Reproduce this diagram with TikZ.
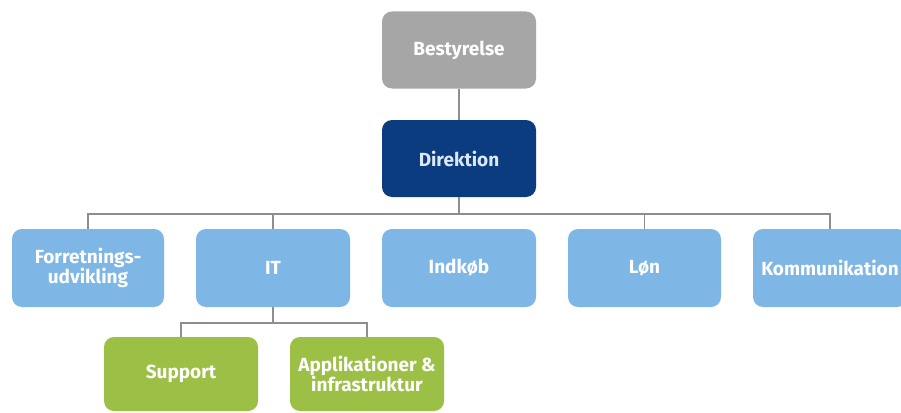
\documentclass[tikz,border=0pt]{standalone}
\usepackage{fontspec}
\setmainfont{Fira Sans}
\definecolor{boxgray}{HTML}{A6A6A6}
\definecolor{boxnavy}{HTML}{0B3C80}
\definecolor{boxblue}{HTML}{7EB6E5}
\definecolor{boxgreen}{HTML}{9CBF45}
\definecolor{linegray}{HTML}{8E8E8E}
\definecolor{navytext}{HTML}{DCE8F6}
\begin{document}
\begin{tikzpicture}[x=1pt,y=-1pt,
  orgbox/.style={rectangle, rounded corners=10pt, minimum height=77pt, minimum width=154pt,
    inner sep=2pt, align=center, font=\fontsize{19}{19}\selectfont\bfseries, text=white},
  graybox/.style={orgbox, fill=boxgray},
  navybox/.style={orgbox, fill=boxnavy, text=navytext},
  bluebox/.style={orgbox, fill=boxblue},
  greenbox/.style={orgbox, fill=boxgreen, minimum height=74pt},
  conn/.style={draw=linegray, line width=1.5pt}]
\useasboundingbox (0,0) rectangle (901,412);
\fill[white] (0,0) rectangle (901,412);
\node[graybox] (best) at (459,50) {Bestyrelse};
\node[navybox] (dir) at (459,158.5) {Direktion};
\node[bluebox, minimum width=152pt, minimum height=78pt] (forr) at (88,268) {Forretnings-\\udvikling};
\node[bluebox, minimum height=78pt] (it) at (273,268) {IT};
\node[bluebox, minimum height=78pt] (ind) at (459,268) {Indkøb};
\node[bluebox, minimum width=153pt, minimum height=78pt] (lon) at (644.5,268) {Løn};
\node[bluebox, minimum width=154pt, minimum height=78pt] (kom) at (830,268) {Kommunikation};
\node[greenbox] (sup) at (181,374) {Support};
\node[greenbox] (app) at (367,374) {Applikationer \&\\infrastruktur};
\coordinate (bus) at (0,214);
\coordinate (bus2) at (0,323);
\draw[conn] (best.south) -- (dir.north);
\draw[conn] (dir.south) -- (dir.south |- bus);
\draw[conn] (forr.north) -- (forr.north |- bus) -- (kom.north |- bus) -- (kom.north);
\draw[conn] (it.north) -- (it.north |- bus);
\draw[conn] (lon.north) -- (lon.north |- bus);
\draw[conn] (it.south) -- (it.south |- bus2);
\draw[conn] (sup.north) -- (sup.north |- bus2) -- (app.north |- bus2) -- (app.north);
\end{tikzpicture}
\end{document}
